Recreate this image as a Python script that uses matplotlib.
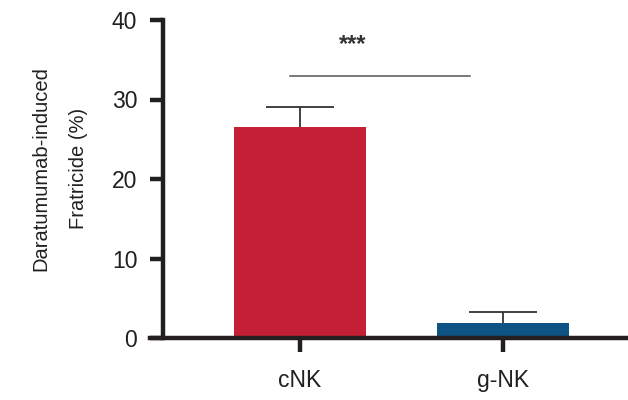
#Daratumumab-induced fratricide bar chart (cNK vs g-NK)
import matplotlib
matplotlib.use('Agg')
import matplotlib.pyplot as plt

#data
groups = ['cNK', 'g-NK']
means = [26.6, 1.9]
errs = [2.5, 1.4]
colors = ['#C41F35', '#0D5384']
stars = '***'

plt.rcParams['font.family'] = ['Liberation Sans', 'DejaVu Sans']

fig = plt.figure(figsize=(6.28, 4.0), dpi=100)
ax = fig.add_axes([150/628, 62/400, 478/628, 318/400])

xpos = list(range(len(groups)))
ax.bar(xpos, means, width=0.65, color=colors, zorder=2)

#upper error bars only
cap = 0.168
for x, m, e in zip(xpos, means, errs):
    ax.vlines(x, m, m + e, color='#333333', lw=1.3, zorder=3)
    ax.hlines(m + e, x - cap, x + cap, color='#333333', lw=1.3, zorder=3)

#significance bracket
ax.plot([-0.05, 0.84], [32.9, 32.9], color='#555555', lw=1.1)
ax.text(0.26, 36.1, stars, ha='center', va='baseline', fontsize=17,
        fontweight='bold', color='#333333')

#axes styling
ax.set_xlim(-0.739, 1.616)
ax.set_ylim(0, 40)
ax.set_yticks([0, 10, 20, 30, 40])
ax.set_xticks(xpos)
ax.set_xticklabels(groups)
for s in ['top', 'right']:
    ax.spines[s].set_visible(False)
ax.spines['left'].set_position(('data', -0.675))
for s in ['left', 'bottom']:
    ax.spines[s].set_linewidth(3.2)
    ax.spines[s].set_color('#231F20')
ax.tick_params(axis='y', length=9.5, width=3.2, color='#231F20', labelsize=16.5,
               labelcolor='#231F20', pad=9)
ax.tick_params(axis='x', length=10, width=3.2, color='#231F20', labelsize=16.5,
               labelcolor='#231F20', pad=12)

ax.set_ylabel('Daratumumab-induced\nFratricide (%)', fontsize=14.5,
              color='#231F20', linespacing=2.25)
ax.yaxis.set_label_coords(-0.13, 0.533)

fig.savefig('out.png', dpi=100)
